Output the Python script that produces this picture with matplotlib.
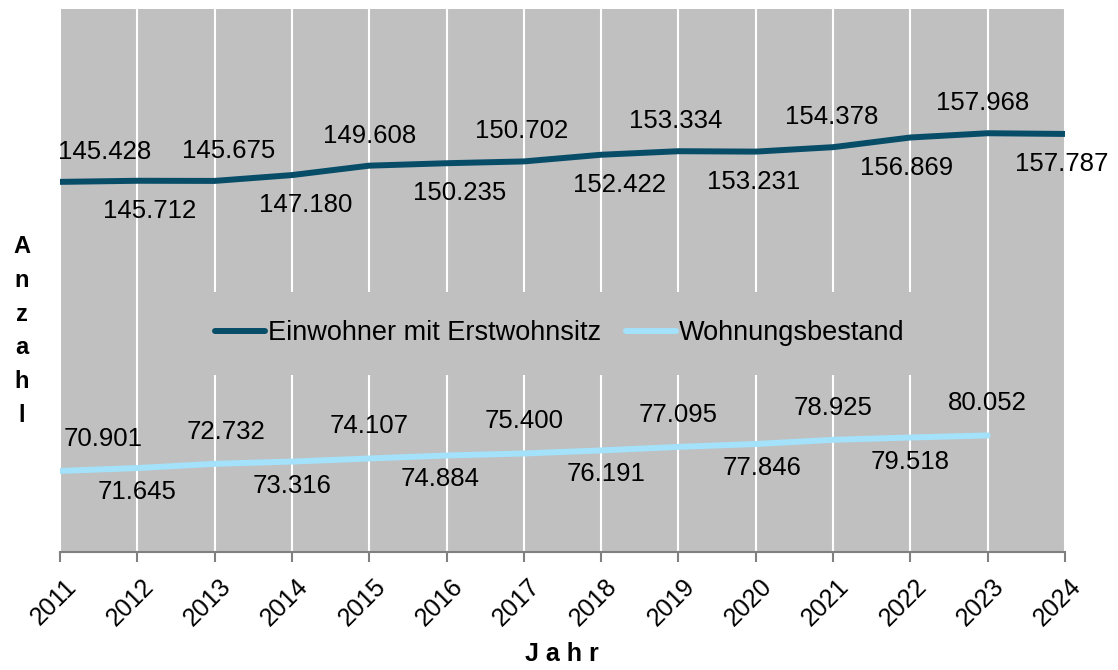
import matplotlib.pyplot as plt
import matplotlib.transforms as mtransforms

plt.rcParams['font.family'] = ['Liberation Sans', 'DejaVu Sans']

# data
years = list(range(2011, 2025))
einwohner = [145428, 145712, 145675, 147180, 149608, 150235, 150702,
             152422, 153334, 153231, 154378, 156869, 157968, 157787]
wohnungen = [70901, 71645, 72732, 73316, 74107, 74884, 75400,
             76191, 77095, 77846, 78925, 79518, 80052]

# small horizontal nudges of the value labels (pixels), as in the original
ew_dx = [0, 12, 14, 14, 0, 13, -2, 18, -3, -2, -1, -4, -5, -3]
wb_dx = [0, 0, 11, 0, 0, -6, 0, 5, 0, 6, 0, 0, 0]

dark = '#084D68'
light = '#A3E2FA'

def fmt(v):
    return f"{v:,}".replace(',', '.')

fig = plt.figure(figsize=(11.18, 6.70), dpi=100)
ax = fig.add_axes([60 / 1118, 118 / 670, 1005 / 1118, 543 / 670])
ax.set_facecolor('#C0C0C0')

ax.plot(years, einwohner, color=dark, lw=4.3, solid_capstyle='round',
        label='Einwohner mit Erstwohnsitz', zorder=3)
ax.plot(years[:len(wohnungen)], wohnungen, color=light, lw=4.3,
        solid_capstyle='round', label='Wohnungsbestand', zorder=3)

ax.set_xlim(2011, 2024)
ax.set_ylim(50000, 190000)
ax.set_xticks(years)
ax.set_xticklabels([str(y) for y in years], rotation=45, ha='right',
                   rotation_mode='anchor')
ax.set_yticks([])
ax.grid(axis='x', color='white', lw=1.5, zorder=1)
for s in ['top', 'right', 'left']:
    ax.spines[s].set_visible(False)
ax.spines['bottom'].set_color('#808080')
ax.spines['bottom'].set_linewidth(1.5)
ax.tick_params(axis='x', length=7, width=1.5, color='#808080', pad=9,
               labelsize=18)
shift = mtransforms.ScaledTranslation(4 / 100, 0, fig.dpi_scale_trans)
for lab in ax.get_xticklabels():
    lab.set_transform(lab.get_transform() + shift)

# data labels, alternating above / below
for i, (x, v) in enumerate(zip(years, einwohner)):
    dy = 30 if i % 2 == 0 else -30
    ha = 'left' if i == 0 else 'center'
    ax.annotate(fmt(v), (x, v), xytext=(-2 if i == 0 else ew_dx[i], dy),
                textcoords='offset pixels', ha=ha, va='center', fontsize=18.5,
                zorder=4)
for i, (x, v) in enumerate(zip(years, wohnungen)):
    dy = 32 if i % 2 == 0 else -24
    ha = 'left' if i == 0 else 'center'
    ax.annotate(fmt(v), (x, v), xytext=(4 if i == 0 else wb_dx[i], dy),
                textcoords='offset pixels', ha=ha, va='center', fontsize=18.5,
                zorder=4)

leg = ax.legend(loc='center', bbox_to_anchor=(0.4975, 0.403), ncol=2,
                fontsize=19.5, frameon=True, facecolor='#C0C0C0',
                edgecolor='none', framealpha=1, fancybox=False,
                handlelength=1.85, handletextpad=0.12, columnspacing=0.9,
                borderpad=1.05)
leg.set_zorder(5)
for line in leg.get_lines():
    line.set_solid_capstyle('round')

fig.text(562 / 1118, 1 - 654 / 670, 'J a h r', ha='center', va='center',
         fontsize=18, fontweight='bold')
fig.text(22 / 1118, 1 - 331 / 670, 'A\nn\nz\na\nh\nl', ha='center',
         va='center', fontsize=17, fontweight='bold', linespacing=1.6)

fig.savefig('out.png', dpi=100)
